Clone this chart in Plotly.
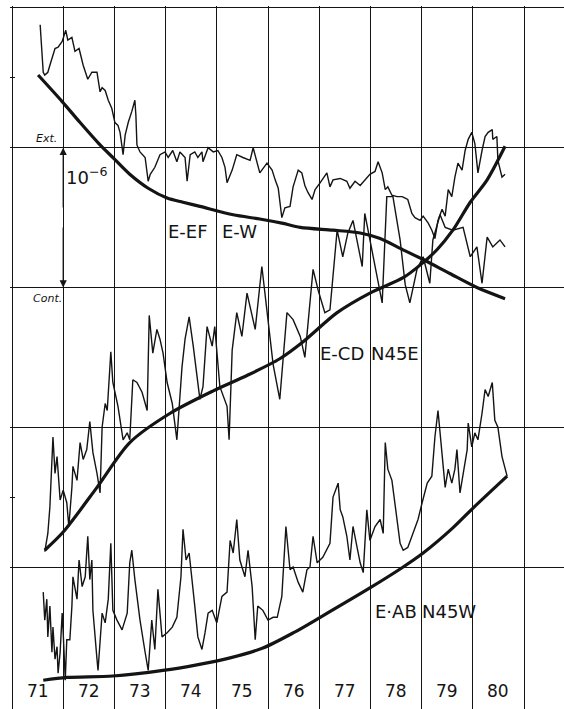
import plotly.graph_objects as go

# ---------------- data (x in years 19xx, y in units of 1e-6 strain) ----------------
years = [71, 72, 73, 74, 75, 76, 77, 78, 79, 80, 81]
year_labels = ["71", "72", "73", "74", "75", "76", "77", "78", "79", "80"]
grid_levels = [1, 2, 3, 4, 5]
minor_levels = [1.5, 4.5]

ef_x = [71.55, 71.61, 71.64, 71.70, 71.74, 71.84, 71.90, 71.98, 72.05, 72.09, 72.17, 72.23, 72.31, 72.39,
        72.48, 72.56, 72.66, 72.68, 72.72, 72.76, 72.82, 72.88, 72.95, 73.01, 73.07, 73.11, 73.17, 73.21,
        73.27, 73.34, 73.40, 73.42, 73.44, 73.50, 73.60, 73.66, 73.70, 73.79, 73.89, 73.99, 74.05, 74.14,
        74.22, 74.28, 74.38, 74.42, 74.48, 74.57, 74.63, 74.71, 74.73, 74.83, 74.93, 75.02, 75.10, 75.16,
        75.20, 75.30, 75.39, 75.51, 75.65, 75.71, 75.79, 75.84, 75.98, 76.08, 76.14, 76.20, 76.27, 76.33,
        76.43, 76.49, 76.59, 76.66, 76.72, 76.78, 76.86, 76.92, 77.02, 77.15, 77.21, 77.27, 77.41, 77.54,
        77.60, 77.70, 77.80, 77.89, 77.99, 78.09, 78.15, 78.23, 78.29, 78.34, 78.42, 78.52, 78.62, 78.68,
        78.73, 78.81, 78.87, 78.97, 79.03, 79.13, 79.20, 79.26, 79.32, 79.40, 79.46, 79.52, 79.59, 79.65,
        79.71, 79.79, 79.85, 79.91, 79.98, 80.04, 80.10, 80.18, 80.24, 80.30, 80.38, 80.39, 80.47, 80.49,
        80.57, 80.63]
ef_y = [4.88, 4.54, 4.52, 4.54, 4.59, 4.71, 4.72, 4.76, 4.84, 4.77, 4.79, 4.69, 4.71, 4.59,
        4.49, 4.54, 4.54, 4.49, 4.40, 4.43, 4.41, 4.34, 4.28, 4.18, 4.16, 4.11, 3.95, 4.09,
        4.18, 4.26, 4.34, 4.23, 4.02, 3.97, 3.93, 3.76, 3.81, 3.86, 3.95, 3.97, 3.93, 3.98,
        3.90, 3.97, 3.93, 3.76, 3.95, 3.97, 3.93, 3.97, 3.90, 4.00, 3.97, 3.98, 3.93, 3.86,
        3.75, 3.84, 3.95, 3.93, 3.91, 4.00, 3.88, 3.82, 3.89, 3.84, 3.77, 3.71, 3.50, 3.57,
        3.58, 3.72, 3.84, 3.82, 3.73, 3.68, 3.63, 3.70, 3.75, 3.82, 3.72, 3.77, 3.78, 3.76,
        3.71, 3.76, 3.73, 3.77, 3.81, 3.83, 3.90, 3.82, 3.70, 3.72, 3.66, 3.65, 3.65, 3.64,
        3.63, 3.53, 3.50, 3.48, 3.51, 3.46, 3.41, 3.35, 3.48, 3.56, 3.51, 3.70, 3.65, 3.79,
        3.89, 3.84, 3.98, 4.06, 4.11, 4.03, 3.82, 3.98, 4.08, 4.11, 4.13, 4.06, 4.08, 3.91,
        3.79, 3.81]

cd_x = [71.64, 71.70, 71.74, 71.80, 71.84, 71.88, 71.94, 72.00, 72.07, 72.11, 72.17, 72.19, 72.27, 72.33,
        72.39, 72.46, 72.52, 72.58, 72.66, 72.72, 72.76, 72.82, 72.86, 72.93, 72.97, 73.07, 73.17, 73.25,
        73.30, 73.36, 73.44, 73.54, 73.64, 73.68, 73.75, 73.83, 73.89, 73.95, 74.03, 74.13, 74.22, 74.32,
        74.38, 74.46, 74.54, 74.67, 74.73, 74.81, 74.91, 74.96, 75.06, 75.20, 75.24, 75.30, 75.39, 75.49,
        75.59, 75.69, 75.75, 75.88, 76.00, 76.10, 76.23, 76.37, 76.49, 76.63, 76.72, 76.78, 76.88, 76.98,
        77.11, 77.21, 77.35, 77.46, 77.56, 77.66, 77.74, 77.84, 77.89, 77.99, 78.13, 78.23, 78.32, 78.44,
        78.58, 78.68, 78.77, 78.91, 79.03, 79.16, 79.22, 79.36, 79.46, 79.61, 79.81, 79.95, 80.08, 80.18,
        80.28, 80.39, 80.53, 80.63]
cd_y = [1.11, 1.24, 1.43, 1.93, 1.67, 1.79, 1.48, 1.55, 1.46, 1.29, 1.57, 1.72, 1.62, 1.89,
        1.77, 1.84, 2.04, 1.82, 1.67, 1.53, 2.00, 2.17, 2.12, 2.54, 2.32, 2.15, 1.91, 1.96,
        1.91, 2.34, 2.32, 2.25, 2.12, 2.80, 2.53, 2.70, 2.63, 2.53, 2.32, 2.17, 1.91, 2.43,
        2.63, 2.79, 2.58, 2.20, 2.29, 2.72, 2.58, 2.72, 2.29, 2.15, 1.91, 2.55, 2.82, 2.65,
        2.96, 2.79, 2.70, 3.15, 2.77, 2.45, 2.20, 2.82, 2.77, 2.65, 2.50, 2.75, 3.13, 2.98,
        2.82, 2.84, 3.41, 3.22, 3.39, 3.48, 3.34, 3.15, 3.53, 3.34, 3.08, 2.89, 3.65, 3.65,
        3.34, 3.02, 2.89, 3.13, 3.22, 3.03, 3.34, 3.52, 3.43, 3.41, 3.43, 3.22, 3.29, 3.03,
        3.36, 3.29, 3.34, 3.29]

ab_x = [71.61, 71.64, 71.68, 71.70, 71.74, 71.78, 71.80, 71.84, 71.88, 71.90, 71.94, 71.98, 72.00, 72.04,
        72.07, 72.13, 72.17, 72.19, 72.27, 72.31, 72.37, 72.43, 72.48, 72.52, 72.56, 72.58, 72.66, 72.68,
        72.76, 72.82, 72.88, 72.93, 72.97, 73.05, 73.15, 73.25, 73.30, 73.34, 73.40, 73.50, 73.60, 73.66,
        73.73, 73.79, 73.85, 73.93, 74.03, 74.13, 74.22, 74.30, 74.34, 74.40, 74.46, 74.52, 74.57, 74.63,
        74.71, 74.77, 74.83, 74.91, 75.00, 75.10, 75.20, 75.26, 75.32, 75.39, 75.45, 75.55, 75.61, 75.69,
        75.75, 75.80, 75.90, 76.00, 76.10, 76.18, 76.27, 76.35, 76.43, 76.49, 76.59, 76.68, 76.76, 76.82,
        76.88, 76.96, 77.07, 77.21, 77.27, 77.37, 77.41, 77.46, 77.54, 77.60, 77.66, 77.74, 77.80, 77.86,
        77.93, 77.99, 78.09, 78.19, 78.25, 78.29, 78.34, 78.42, 78.48, 78.58, 78.64, 78.73, 78.83, 78.93,
        79.01, 79.11, 79.20, 79.26, 79.32, 79.40, 79.46, 79.52, 79.59, 79.65, 79.69, 79.75, 79.81, 79.89,
        79.91, 79.98, 80.04, 80.10, 80.18, 80.24, 80.30, 80.38, 80.43, 80.49, 80.57, 80.63, 80.67]
ab_y = [0.82, 0.62, 0.77, 0.50, 0.72, 0.39, 0.57, 0.34, 0.43, 0.24, 0.39, 0.67, 0.53, 0.19,
        0.48, 0.48, 0.72, 0.93, 0.77, 1.05, 0.86, 0.93, 1.22, 0.91, 1.05, 0.69, 0.34, 0.26,
        0.67, 0.60, 0.77, 1.17, 0.69, 0.62, 0.55, 0.67, 1.03, 1.12, 0.91, 0.62, 0.39, 0.26,
        0.62, 0.41, 0.84, 0.50, 0.53, 0.57, 0.64, 0.93, 1.27, 1.05, 1.10, 0.91, 0.72, 0.50,
        0.41, 0.53, 0.67, 0.69, 0.60, 0.79, 0.82, 1.19, 1.10, 1.34, 1.05, 0.93, 1.12, 0.86,
        0.48, 0.72, 0.69, 0.62, 0.64, 0.64, 0.79, 1.29, 0.98, 1.00, 0.89, 0.82, 0.98, 1.00,
        1.22, 1.03, 1.07, 1.17, 1.50, 1.60, 1.41, 1.36, 1.22, 1.05, 1.29, 1.14, 1.03, 0.96,
        1.41, 1.19, 1.29, 1.34, 1.24, 1.89, 1.70, 1.62, 1.46, 1.17, 1.12, 1.14, 1.24, 1.34,
        1.46, 1.60, 1.65, 1.93, 2.12, 1.82, 1.57, 1.70, 1.60, 1.70, 1.84, 1.53, 1.67, 1.84,
        2.03, 1.86, 1.96, 1.91, 2.10, 2.27, 2.22, 2.32, 2.05, 2.00, 1.79, 1.71, 1.65]

ef_trend_x = [71.51, 71.98, 72.33, 72.72, 72.97, 73.30, 73.66, 74.03, 74.34, 74.67, 75.32, 75.84, 76.27,
              76.63, 77.27, 77.80, 78.19, 78.58, 79.03, 79.55, 80.08, 80.63]
ef_trend_y = [4.52, 4.33, 4.18, 4.02, 3.93, 3.81, 3.71, 3.64, 3.61, 3.58, 3.52, 3.49, 3.46,
              3.43, 3.41, 3.39, 3.35, 3.28, 3.20, 3.10, 3.00, 2.92]

cd_trend_x = [71.64, 72.00, 72.66, 73.30, 74.09, 74.93, 75.59, 76.23, 76.68, 77.35, 77.99, 78.64, 78.97,
              79.30, 79.61, 79.95, 80.28, 80.63]
cd_trend_y = [1.12, 1.25, 1.57, 1.89, 2.10, 2.26, 2.37, 2.49, 2.61, 2.82, 2.96, 3.07, 3.16,
              3.27, 3.41, 3.61, 3.77, 4.01]

ab_trend_x = [71.61, 72.07, 72.97, 73.95, 74.61, 75.26, 75.90, 76.50, 77.02, 77.99, 78.64, 79.03,
              79.61, 80.00, 80.67]
ab_trend_y = [0.19, 0.21, 0.22, 0.26, 0.30, 0.35, 0.42, 0.53, 0.64, 0.85, 1.00, 1.10,
              1.28, 1.42, 1.65]

# ---------------- figure ----------------
INK = "#141414"
FONT = "DejaVu Sans, sans-serif"

fig = go.Figure()
for xs, ys in [(ef_x, ef_y), (cd_x, cd_y), (ab_x, ab_y)]:
    fig.add_trace(go.Scatter(x=xs, y=ys, mode="lines",
                             line=dict(color=INK, width=1.4), hoverinfo="skip"))
for xs, ys in [(ef_trend_x, ef_trend_y), (cd_trend_x, cd_trend_y), (ab_trend_x, ab_trend_y)]:
    fig.add_trace(go.Scatter(x=xs, y=ys, mode="lines",
                             line=dict(color=INK, width=3.2, shape="spline", smoothing=0.8),
                             hoverinfo="skip"))

annotations = []
for lab in year_labels:
    annotations.append(dict(x=int(lab) + 0.5, y=0.11, text=lab, showarrow=False,
                            font=dict(family=FONT, size=17, color=INK)))

label_font = dict(family=FONT, size=18, color=INK)
annotations += [
    dict(x=74.44, y=3.40, text="E-EF", showarrow=False, font=label_font),
    dict(x=75.45, y=3.40, text="E-W", showarrow=False, font=label_font),
    dict(x=77.45, y=2.53, text="E-CD", showarrow=False, font=label_font),
    dict(x=78.48, y=2.53, text="N45E", showarrow=False, font=label_font),
    dict(x=78.50, y=0.68, text="E·AB", showarrow=False, font=label_font),
    dict(x=79.54, y=0.68, text="N45W", showarrow=False, font=label_font),
    dict(x=72.45, y=3.80, text="10<sup>−6</sup>", showarrow=False,
         font=dict(family=FONT, size=18, color=INK)),
    dict(x=71.68, y=4.0, text="<i>Ext.</i>", showarrow=False, yanchor="bottom", yshift=1,
         font=dict(family=FONT, size=11, color=INK)),
    dict(x=71.69, y=3.0, text="<i>Cont.</i>", showarrow=False, yanchor="top", yshift=-3,
         font=dict(family=FONT, size=11, color=INK)),
    # double-headed 10^-6 scale arrow
    dict(x=72.0, y=4.0, ax=72.0, ay=3.5, xref="x", yref="y", axref="x", ayref="y",
         showarrow=True, arrowhead=2, arrowsize=1.2, arrowwidth=1.2, arrowcolor=INK, text=" "),
    dict(x=72.0, y=3.0, ax=72.0, ay=3.5, xref="x", yref="y", axref="x", ayref="y",
         showarrow=True, arrowhead=2, arrowsize=1.2, arrowwidth=1.2, arrowcolor=INK, text=" "),
]

fig.update_layout(
    width=564, height=709,
    margin=dict(l=10, r=0, t=6, b=0),
    paper_bgcolor="white", plot_bgcolor="white",
    showlegend=False,
    annotations=annotations,
    xaxis=dict(range=[70.961, 81.781], tickvals=years, showticklabels=False, ticks="",
               showgrid=True, gridcolor=INK, gridwidth=1.3, zeroline=False, showline=False),
    yaxis=dict(range=[-0.016, 5.014], tickvals=grid_levels, showticklabels=False, ticks="",
               showgrid=True, gridcolor=INK, gridwidth=1.3, zeroline=False, showline=False,
               minor=dict(tickvals=minor_levels, ticks="inside", ticklen=5, tickcolor=INK,
                          tickwidth=1.2, showgrid=False)),
)

fig.write_html("out.html", config={"displayModeBar": False},
               post_script="document.body.style.margin='0';document.body.style.overflow='hidden';")
